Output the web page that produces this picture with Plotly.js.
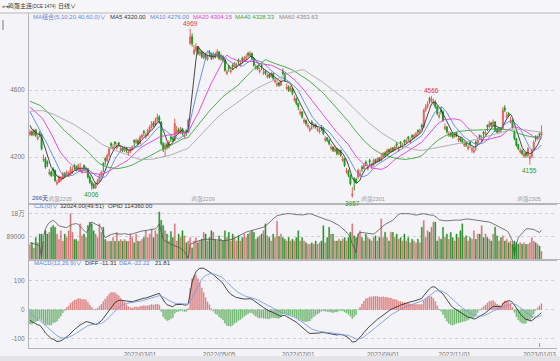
<!DOCTYPE html>
<html><head><meta charset="utf-8">
<script src="https://cdn.plot.ly/plotly-3.0.1.min.js"></script>
<style>html,body{margin:0;padding:0;background:#f4f4f8;overflow:hidden}#chart{width:560px;height:361px}</style>
</head><body><div id="chart"></div>
<script>
// closes before the visible window (needed for MA / MACD warm-up)
const preClose = [4250,4270,4260,4290,4300,4280,4310,4330,4320,4350,4360,4340,4370,4390,4380,4410,4420,4400,4430,4450,
4480,4500,4520,4510,4540,4560,4550,4580,4590,4570,4600,4610,4590,4620,4600,4580,4590,4570,4560,4550,
4560,4540,4550,4530,4520,4540,4510,4500,4530,4520,4540,4560,4580,4570,4550,4500,4450,4410,4380,4360];

const open = [4335,4352,4332,4362,4310,4345,4335,4180,4190,4170,
4100,4110,4130,4120,4040,4050,4060,4070,4100,4085,
4085,4095,4110,4150,4140,4125,4120,4110,4150,4120,
4130,4080,4050,4035,4015,4040,4055,4090,4160,4190,
4180,4210,4280,4250,4290,4255,4285,4240,4255,4240,
4255,4220,4230,4245,4300,4285,4300,4280,4318,4355,
4320,4330,4360,4378,4405,4390,4420,4440,4410,4280,
4250,4275,4260,4320,4315,4300,4345,4365,4345,4370,
4320,4360,4350,4880,4920,4820,4840,4855,4815,4830,
4795,4815,4785,4830,4820,4790,4815,4800,4830,4785,
4800,4780,4700,4740,4710,4750,4740,4740,4780,4750,
4790,4775,4790,4820,4805,4820,4790,4730,4745,4710,
4750,4700,4715,4680,4695,4680,4700,4650,4630,4645,
4630,4710,4700,4610,4620,4595,4610,4540,4550,4520,
4460,4470,4410,4420,4380,4360,4410,4380,4395,4360,
4350,4380,4375,4300,4315,4300,4250,4260,4235,4250,
4220,4240,4180,4190,4110,4120,4090,3970,4070,4065,
4080,4090,4140,4130,4170,4130,4180,4140,4150,4185,
4170,4195,4180,4200,4225,4210,4245,4230,4255,4240,
4280,4240,4290,4260,4300,4285,4320,4290,4330,4315,
4330,4360,4345,4390,4380,4480,4500,4550,4530,4520,
4530,4500,4440,4480,4470,4370,4380,4330,4345,4335,
4320,4345,4300,4315,4305,4270,4285,4250,4290,4240,
4230,4290,4280,4330,4300,4350,4335,4390,4380,4405,
4390,4410,4365,4350,4375,4370,4495,4440,4460,4410,
4420,4350,4310,4275,4230,4240,4205,4225,4210,4190,
4200,4240,4320,4305,4340,4330];

const high = [4365,4360,4370,4368,4335,4355,4340,4215,4200,4180,
4130,4120,4140,4125,4065,4090,4085,4110,4110,4120,
4115,4145,4140,4160,4150,4160,4165,4135,4155,4145,
4135,4090,4060,4045,4050,4070,4100,4120,4170,4200,
4220,4260,4290,4280,4295,4285,4290,4270,4260,4265,
4260,4245,4255,4270,4305,4310,4305,4330,4340,4360,
4345,4370,4390,4415,4415,4435,4460,4450,4415,4290,
4285,4285,4300,4330,4320,4430,4385,4375,4380,4375,
4345,4365,4430,4969,4940,4870,4880,4865,4845,4840,
4830,4825,4815,4840,4825,4830,4825,4845,4835,4820,
4810,4785,4725,4750,4735,4760,4770,4765,4790,4780,
4800,4805,4815,4830,4835,4825,4795,4755,4750,4735,
4760,4730,4720,4705,4700,4710,4705,4675,4660,4650,
4665,4730,4705,4640,4630,4625,4615,4570,4555,4525,
4490,4475,4435,4425,4405,4385,4420,4405,4400,4385,
4375,4390,4380,4325,4320,4305,4280,4265,4265,4255,
4250,4245,4205,4195,4135,4125,4095,4020,4080,4075,
4130,4125,4150,4160,4180,4160,4190,4165,4190,4190,
4200,4200,4220,4230,4235,4250,4250,4260,4260,4270,
4290,4265,4295,4285,4305,4310,4325,4315,4335,4340,
4350,4365,4370,4400,4490,4515,4535,4560,4566,4550,
4540,4505,4470,4500,4480,4400,4385,4355,4350,4340,
4350,4350,4325,4320,4310,4295,4290,4275,4295,4265,
4260,4300,4310,4335,4330,4355,4360,4395,4415,4410,
4425,4415,4370,4380,4380,4500,4510,4470,4470,4440,
4425,4360,4315,4280,4255,4245,4235,4230,4260,4215,
4250,4300,4330,4330,4345,4390];

const low = [4325,4325,4325,4320,4300,4320,4240,4170,4130,4140,
4090,4080,4085,4050,4030,4045,4050,4065,4075,4080,
4080,4090,4100,4120,4115,4120,4110,4100,4115,4110,
4070,4040,4006,4008,4010,4030,4050,4080,4110,4150,
4170,4200,4250,4240,4255,4245,4260,4230,4230,4230,
4225,4210,4225,4240,4260,4280,4270,4275,4310,4325,
4310,4325,4350,4370,4380,4385,4410,4400,4270,4230,
4200,4245,4250,4290,4290,4295,4335,4335,4340,4330,
4315,4325,4345,4870,4860,4810,4830,4810,4805,4790,
4785,4780,4775,4800,4780,4785,4790,4795,4780,4775,
4770,4710,4690,4710,4700,4720,4735,4730,4750,4740,
4760,4770,4780,4795,4800,4780,4740,4720,4720,4700,
4720,4690,4690,4670,4670,4675,4660,4640,4620,4620,
4625,4690,4650,4600,4590,4590,4570,4530,4510,4480,
4450,4430,4400,4385,4370,4350,4365,4370,4370,4350,
4340,4355,4330,4290,4290,4270,4240,4230,4230,4210,
4210,4200,4170,4140,4100,4080,4030,3957,4000,4040,
4070,4080,4110,4125,4145,4120,4150,4130,4145,4160,
4165,4170,4175,4195,4200,4205,4220,4225,4230,4235,
4255,4230,4255,4250,4270,4280,4295,4280,4300,4310,
4320,4335,4340,4360,4375,4470,4490,4520,4525,4510,
4490,4450,4430,4455,4410,4360,4340,4320,4320,4310,
4315,4320,4290,4290,4280,4260,4260,4240,4255,4225,
4220,4240,4275,4300,4290,4315,4330,4355,4375,4380,
4385,4350,4340,4345,4350,4365,4470,4430,4440,4400,
4370,4300,4260,4240,4220,4210,4195,4195,4200,4155,
4195,4235,4290,4300,4320,4325];

const close = [4350,4335,4360,4330,4320,4335,4250,4190,4140,4160,
4110,4090,4120,4060,4050,4080,4070,4100,4085,4110,
4095,4130,4120,4140,4125,4150,4130,4120,4140,4130,
4080,4050,4030,4015,4040,4060,4090,4110,4150,4180,
4210,4250,4270,4260,4280,4265,4275,4250,4240,4255,
4235,4230,4245,4260,4290,4300,4280,4320,4330,4345,
4330,4360,4380,4400,4390,4420,4440,4420,4280,4250,
4270,4260,4290,4310,4300,4400,4360,4345,4370,4340,
4330,4350,4420,4920,4880,4840,4860,4820,4830,4800,
4815,4790,4800,4820,4790,4810,4800,4830,4790,4800,
4780,4720,4710,4730,4720,4740,4760,4750,4770,4760,
4780,4790,4800,4810,4820,4790,4750,4740,4730,4720,
4740,4710,4700,4690,4680,4700,4670,4660,4640,4630,
4650,4700,4660,4620,4600,4610,4580,4550,4520,4500,
4470,4440,4420,4400,4390,4370,4400,4390,4380,4370,
4360,4370,4340,4310,4300,4280,4260,4240,4250,4220,
4240,4210,4190,4150,4120,4090,4040,3980,4060,4050,
4120,4100,4130,4150,4160,4140,4170,4150,4180,4170,
4190,4180,4200,4220,4210,4240,4230,4250,4240,4260,
4270,4250,4280,4270,4290,4300,4310,4300,4320,4330,
4340,4350,4360,4380,4480,4500,4520,4540,4550,4530,
4500,4460,4450,4470,4420,4380,4350,4340,4330,4320,
4340,4330,4310,4300,4290,4280,4270,4260,4280,4250,
4240,4280,4300,4320,4310,4340,4350,4380,4400,4390,
4410,4360,4350,4370,4360,4480,4480,4450,4450,4420,
4380,4310,4270,4250,4240,4220,4220,4210,4250,4200,
4240,4290,4310,4320,4330,4350];

const volume = [59000,66000,45000,86000,66000,100000,100000,72000,113000,100000,
107000,127000,134000,127000,100000,79000,113000,72000,100000,86000,
113000,180000,107000,79000,79000,72000,140000,93000,100000,86000,
134000,147000,140000,113000,100000,86000,140000,107000,127000,79000,
72000,72000,72000,86000,72000,107000,72000,79000,72000,79000,
72000,72000,100000,86000,66000,100000,72000,72000,79000,86000,
113000,86000,100000,120000,86000,113000,100000,187000,154000,134000,
113000,100000,73000,110000,86000,140000,73000,100000,86000,113000,
93000,66000,73000,86000,46000,73000,86000,66000,73000,80000,
107000,100000,73000,86000,113000,107000,80000,73000,93000,80000,
73000,113000,86000,107000,73000,100000,86000,73000,93000,73000,
86000,100000,86000,100000,107000,113000,107000,80000,86000,93000,
100000,113000,140000,93000,86000,73000,100000,86000,150000,90000,
100000,86000,80000,73000,86000,73000,80000,73000,86000,113000,
73000,86000,73000,66000,60000,60000,66000,60000,73000,60000,
66000,73000,133000,66000,86000,127000,100000,100000,73000,73000,
80000,73000,80000,86000,73000,86000,107000,140000,93000,86000,
100000,113000,86000,73000,100000,86000,80000,73000,86000,93000,
73000,86000,160000,86000,107000,86000,73000,107000,107000,86000,
100000,80000,86000,73000,100000,73000,86000,66000,80000,73000,
66000,80000,66000,127000,153000,86000,113000,107000,127000,147000,
147000,73000,86000,80000,127000,86000,100000,80000,107000,86000,
73000,100000,86000,113000,140000,86000,93000,73000,86000,80000,
113000,80000,100000,100000,133000,86000,100000,86000,80000,73000,
100000,127000,93000,73000,86000,93000,73000,80000,66000,73000,
60000,73000,66000,60000,66000,60000,66000,60000,60000,66000,
86000,73000,66000,60000,53000,32024];

// open interest, thousands of lots
const openInterestK = [66,64,63,60,58,50,10,90,120,135,
145,150,154,148,140,133,130,128,126,125,
130,135,138,140,141,138,130,120,110,106,
112,135,147,142,138,135,133,125,100,86,
90,95,98,100,102,100,100,98,100,102,
100,98,100,100,103,106,108,110,112,113,
113,115,117,118,119,120,128,140,110,80,
73,68,64,60,57,55,53,48,44,38,
32,20,5,60,62,66,70,73,75,77,
78,79,80,80,79,78,77,76,75,74,
73,74,75,76,78,80,84,88,92,97,
102,106,108,110,112,113,115,118,120,123,
125,127,132,138,145,152,160,167,172,174,
176,178,179,180,180,180,179,177,176,175,
174,175,176,178,180,180,178,175,172,169,
167,164,160,157,155,154,150,146,142,140,
134,128,120,114,108,100,85,60,46,26,
100,106,106,105,106,104,102,100,100,105,
112,120,126,132,138,142,146,150,154,162,
170,178,180,181,180,180,180,180,178,176,
174,176,178,180,180,178,176,175,174,174,
170,164,156,154,153,152,152,153,154,154,
155,155,154,154,156,158,160,159,158,157,
156,155,154,154,152,150,149,148,147,144,
140,136,131,127,124,120,117,113,105,90,
73,13,60,86,95,105,112,120,121,120,
120,118,114,110,106,114.36];

const maPeriods = [5,10,20,40,60];
const maLegendValues = ['4320.00','4276.00','4304.15','4328.33','4353.63'];
const macdLegend = {diff:'-11.31', dea:'-22.22', macd:'21.81'};
const rollDays = [8,82,170,251];
const rollNames = ['鸡蛋2205','鸡蛋2209','鸡蛋2301','鸡蛋2305'];
const highMarks = [83,208];
const lowMarks = [32,167,259];
const dateTickIdx = [57,98,139,183,220,264];
const dateTickText = ['2022/03/01','2022/05/05','2022/07/01','2022/09/01','2022/11/01','2023/01/03'];
const volTickVals = [89000,180000];
const volTickText = ['89000','18万'];

// ---------- derived ----------
const days = close.map((_, i) => i);
const all = preClose.concat(close);
const P = preClose.length;
function ma(n){ return close.map((_, i) => { let s = 0; for (let k = P + i - n + 1; k <= P + i; k++) s += all[k]; return s / n; }); }
let e12 = all[0], e26 = all[0], dea = 0;
const diff = [], deaArr = [], hist = [];
all.forEach((c, k) => {
  e12 += (c - e12) * 2 / 13; e26 += (c - e26) * 2 / 27;
  const d = e12 - e26; dea += (d - dea) * 2 / 10;
  if (k >= P) { diff.push(d); deaArr.push(dea); hist.push(2 * (d - dea)); }
});
const UP = '#e2625f', DN = '#1f991f';
const isUp = close.map((c, i) => c >= open[i]);
const maColors = ['#333333', '#5a86e0', '#e03ad8', '#3aa53a', '#a8a8a8'];
const traces = [];
traces.push({type:'candlestick', x:days, open, high, low, close, xaxis:'x', yaxis:'y',
  increasing:{line:{color:UP,width:1}, fillcolor:UP}, decreasing:{line:{color:DN,width:1}, fillcolor:DN},
  whiskerwidth:0, hoverinfo:'skip'});
maPeriods.forEach((n, j) => traces.push({type:'scatter', mode:'lines', x:days, y:ma(n), xaxis:'x', yaxis:'y',
  line:{color:maColors[j], width:0.9}, hoverinfo:'skip'}));
traces.push({type:'bar', x:days, y:volume.map((v, i) => isUp[i] ? v : null), xaxis:'x2', yaxis:'y2', width:0.62,
  marker:{color:'rgba(214,120,118,0.95)', line:{color:'rgba(200,100,100,1)', width:0.3}}, hoverinfo:'skip'});
traces.push({type:'bar', x:days, y:volume.map((v, i) => isUp[i] ? null : v), xaxis:'x2', yaxis:'y2', width:0.62,
  marker:{color:'#2f9a2f', line:{color:'#137a13', width:0.3}}, hoverinfo:'skip'});
traces.push({type:'scatter', mode:'lines', x:days, y:openInterestK.map(v => v * 1000), xaxis:'x2', yaxis:'y2',
  line:{color:'#555', width:0.8}, hoverinfo:'skip'});
traces.push({type:'bar', x:days, y:hist.map(v => v >= 0 ? v : null), xaxis:'x3', yaxis:'y3', width:0.5,
  marker:{color:'#dc7c7c', line:{color:'#dc7c7c', width:0.4}}, hoverinfo:'skip'});
traces.push({type:'bar', x:days, y:hist.map(v => v < 0 ? v : null), xaxis:'x3', yaxis:'y3', width:0.5,
  marker:{color:'#6cb46c', line:{color:'#6cb46c', width:0.4}}, hoverinfo:'skip'});
traces.push({type:'scatter', mode:'lines', x:days, y:diff, xaxis:'x3', yaxis:'y3', line:{color:'#333', width:0.9}, hoverinfo:'skip'});
traces.push({type:'scatter', mode:'lines', x:days, y:deaArr, xaxis:'x3', yaxis:'y3', line:{color:'#7c9be2', width:0.9}, hoverinfo:'skip'});

// ---------- layout ----------
const W = 560, H = 361, L = 29, R = 3, T = 13, B = 13;
const pw = W - L - R, ph = H - T - B;
const px = x => (x - L) / pw, py = y => (H - B - y) / ph;
const dayPx = 1.93, x0px = 30;
const xr = [(L - x0px) / dayPx, (W - R - x0px) / dayPx];
const FF = 'Liberation Sans, Arial, Noto Sans CJK SC, sans-serif';
const tf = {family:FF, size:6.5, color:'#777'};
const axBase = {showgrid:false, zeroline:false, showline:true, linecolor:'#b4b4b8', linewidth:1, ticks:'', fixedrange:true};
const yBase = Object.assign({}, axBase, {showgrid:true, gridcolor:'#cfcfd6', griddash:'dot', gridwidth:1, tickfont:tf, ticklabelstandoff:2});

const ann = [];
function txt(x, y, text, color, size, anchor){
  ann.push({xref:'paper', yref:'paper', x:px(x), y:py(y), text, showarrow:false, xanchor:anchor || 'left', yanchor:'middle',
    font:{family:FF, size:size || 6, color}});
}
txt(0, 6.5, '⊶', '#555', 6.5);
txt(6, 6.5, '鸡蛋主连<span style="font-size:4.5px">(DCE 1474)</span>', '#333', 6);
txt(56, 6.5, '日线∨', '#333', 6);
txt(31, 17, 'MA组合(5,10,20,40,60,0)∨', '#5a86e0');
const maLegX = [108, 148, 191, 233, 277];
maPeriods.forEach((n, j) => txt(maLegX[j], 17, 'MA' + n + ' ' + maLegendValues[j], j === 0 ? '#333' : (j === 4 ? '#888' : maColors[j])));
txt(32, 206, 'CJL(0)∨', '#5a86e0');
txt(58, 206, volume[volume.length - 1].toFixed(2) + '(49:51)', '#333');
txt(106, 206, 'OPID ' + (openInterestK[openInterestK.length - 1] * 1000).toFixed(2), '#333');
txt(32, 263, 'MACD(12,26,9)∨', '#5a86e0');
txt(83, 263, 'DIFF ' + macdLegend.diff, '#333');
txt(117, 263, 'DEA ' + macdLegend.dea, '#5a86e0');
txt(153, 263, macdLegend.macd, '#333');
txt(30, 198.5, '266天', '#2c4a9a', 6);
rollDays.forEach((d, j) => ann.push({xref:'x', yref:'paper', x:d, y:py(198.5), text:':' + rollNames[j], showarrow:false,
  xanchor:'left', yanchor:'middle', font:{family:FF, size:5.5, color:'#999'}}));
highMarks.forEach(i => ann.push({xref:'x', yref:'y', x:i, y:high[i], text:String(high[i]), showarrow:false, yanchor:'bottom', yshift:0,
  font:{family:FF, size:6.5, color:'#e03838'}}));
lowMarks.forEach(i => ann.push({xref:'x', yref:'y', x:i, y:low[i], text:String(low[i]), showarrow:false, yanchor:'top', yshift:0,
  font:{family:FF, size:6.5, color:'#2a9a2a'}}));

const shapes = [
  {type:'rect', xref:'paper', yref:'paper', x0:px(0), x1:px(560), y0:py(13), y1:py(0), fillcolor:'#f7f7f9', line:{width:0}, layer:'below'},
  {type:'line', xref:'paper', yref:'paper', x0:px(0), x1:px(560), y0:py(13), y1:py(13), line:{color:'#b8b8bc', width:1}},
  {type:'line', xref:'paper', yref:'paper', x0:px(L), x1:px(560), y0:py(203.5), y1:py(203.5), line:{color:'#b8b8bc', width:1}},
  {type:'line', xref:'paper', yref:'paper', x0:px(L), x1:px(560), y0:py(259.5), y1:py(259.5), line:{color:'#b8b8bc', width:1}},
  {type:'rect', xref:'paper', yref:'paper', x0:px(0), x1:px(560), y0:py(361), y1:py(356), fillcolor:'#e4e4e8', line:{width:0}},
  {type:'line', xref:'paper', yref:'paper', x0:px(3), x1:px(3), y0:py(30), y1:py(20), line:{color:'#777', width:1}},
  {type:'line', xref:'x3', yref:'paper', x0:264, x1:264, y0:py(347), y1:py(343), line:{color:'#999', width:1}}
];

const layout = {
  width:W, height:H, margin:{l:L, r:R, t:T, b:B, pad:0},
  paper_bgcolor:'#f4f4f8', plot_bgcolor:'#f4f4f8', showlegend:false, dragmode:false, barmode:'overlay', bargap:0,
  font:{family:FF, size:6.5, color:'#555'},
  xaxis:Object.assign({}, axBase, {domain:[0,1], range:xr, anchor:'y', showticklabels:false, rangeslider:{visible:false}}),
  yaxis:Object.assign({}, yBase, {domain:[py(203.5), 1], range:[3922, 5062], tickvals:[4200, 4600]}),
  xaxis2:Object.assign({}, axBase, {domain:[0,1], range:xr, anchor:'y2', showticklabels:false}),
  yaxis2:Object.assign({}, yBase, {domain:[py(259.5), py(204)], range:[0, 218000], tickvals:volTickVals, ticktext:volTickText}),
  xaxis3:Object.assign({}, axBase, {domain:[0,1], range:xr, anchor:'y3', tickvals:dateTickIdx, ticktext:dateTickText, tickfont:tf}),
  yaxis3:Object.assign({}, yBase, {domain:[0, py(260)], range:[-132, 171], tickvals:[-100, 0, 100], ticktext:['-100', '0', '100']}),
  annotations:ann, shapes
};
Plotly.newPlot('chart', traces, layout, {staticPlot:true, displayModeBar:false});
</script></body></html>
